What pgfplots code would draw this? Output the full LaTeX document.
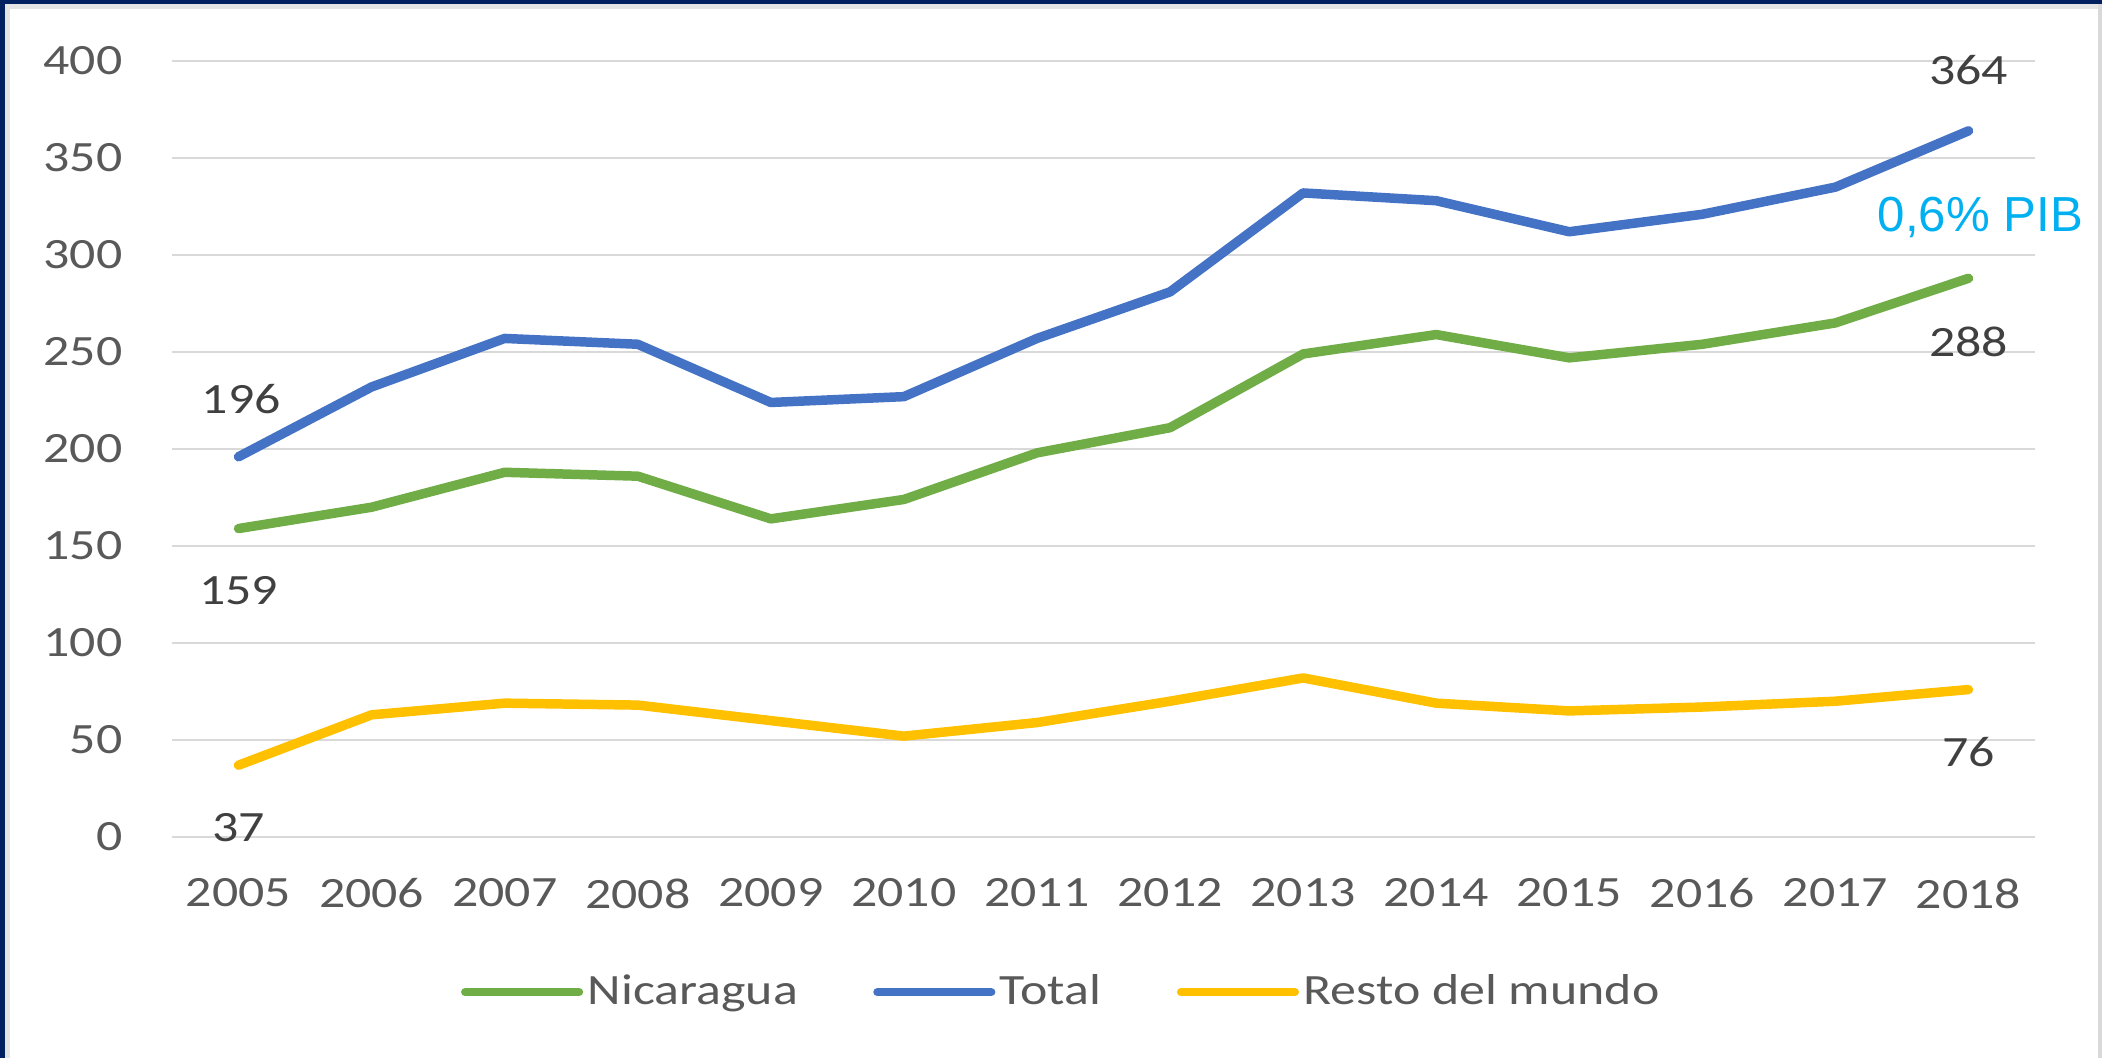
\documentclass[border=0pt]{standalone}
\usepackage{fontspec}
\setmainfont{Carlito}[FakeStretch=1.2]
\newfontfamily\arialfont{Liberation Sans}
\usepackage{pgfplots}
\pgfplotsset{compat=1.18}

\definecolor{navyb}{HTML}{002060}
\definecolor{gridg}{HTML}{D9D9D9}
\definecolor{tickg}{HTML}{595959}
\definecolor{labg}{HTML}{404040}
\definecolor{nicgreen}{HTML}{70AD47}
\definecolor{totblue}{HTML}{4472C4}
\definecolor{restyellow}{HTML}{FFC000}
\definecolor{pibcyan}{HTML}{00B0F0}

% 0 = 2005 ... 13 = 2018
\pgfplotstableread{
x nic tot resto
0  159 196 37
1  170 232 63
2  188 257 69
3  186 254 68
4  164 224 60
5  174 227 52
6  198 257 59
7  211 281 70
8  249 332 82
9  259 328 69
10 247 312 65
11 254 321 67
12 265 335 70
13 288 364 76
}\datatable

\begin{document}
\begin{tikzpicture}
  \fill[white] (0,0) rectangle (210.2mm,105.8mm);
  \useasboundingbox (0,0) rectangle (210.2mm,105.8mm);
  % frame
  \fill[navyb] (0,0) rectangle (0.5mm,105.8mm);
  \fill[navyb] (0,105.4mm) rectangle (210.2mm,105.8mm);
  \fill[gridg!70] (0.5mm,0) rectangle (1.0mm,105.4mm);
  \fill[gridg!70] (0.5mm,104.95mm) rectangle (210.2mm,105.4mm);
  \fill[gridg] (209.8mm,0) rectangle (210.2mm,105.4mm);

  \begin{axis}[
    at={(17.2mm,22.1mm)}, anchor=south west,
    scale only axis,
    width=186.3mm, height=77.6mm,
    xmin=-0.5, xmax=13.5,
    ymin=0, ymax=400,
    axis line style={draw=none},
    major tick length=0pt,
    xtick={0,1,2,3,4,5,6,7,8,9,10,11,12,13},
    xticklabels={2005,2006,2007,2008,2009,2010,2011,2012,2013,2014,2015,2016,2017,2018},
    ytick={0,50,100,150,200,250,300,350,400},
    yticklabels={0,50,100,150,200,250,300,350,400},
    ymajorgrids,
    grid style={draw=gridg, line width=0.7pt},
    xticklabel style={font=\fontsize{12.3}{14}\selectfont, text=tickg,
      anchor=north, inner sep=0pt, yshift=-4.1mm},
    yticklabel style={font=\fontsize{12.3}{14}\selectfont, text=tickg,
      anchor=east, inner sep=0pt, xshift=-4.9mm},
    clip=false,
    legend image code/.code={
      \draw[#1, line width=2.3pt, line cap=round] (0.4mm,0mm) -- (11.8mm,0mm);},
    legend style={draw=none, fill=none, at={(0.478,-0.20)}, anchor=center,
      legend columns=3, font=\fontsize{12.3}{14}\selectfont, text=tickg,
      nodes={inner sep=0.45mm},
      /tikz/every even column/.append style={column sep=7.1mm}},
  ]
    \addplot[nicgreen, line width=2.7pt, line join=round, line cap=round]
      table[x=x, y=nic] {\datatable};
    \addlegendentry{Nicaragua}
    \addplot[totblue, line width=2.7pt, line join=round, line cap=round]
      table[x=x, y=tot] {\datatable};
    \addlegendentry{Total}
    \addplot[restyellow, line width=2.7pt, line join=round, line cap=round]
      table[x=x, y=resto] {\datatable};
    \addlegendentry{Resto del mundo}

    \begin{scope}[every node/.style={font=\fontsize{12.3}{14}\selectfont, text=labg, inner sep=0pt}]
      \node at (axis cs:13,395.4) {364};
      \node at (axis cs:13,255) {288};
      \node at (axis cs:0.02,226) {196};
      \node at (axis cs:0,127) {159};
      \node at (axis cs:0,4.6) {37};
      \node at (axis cs:13,43.8) {76};
    \end{scope}
    \node[font=\arialfont\fontsize{14}{16}\selectfont, text=pibcyan, inner sep=0pt]
      at (axis cs:13.09,319.6) {0,6\% PIB};
  \end{axis}
\end{tikzpicture}
\end{document}
